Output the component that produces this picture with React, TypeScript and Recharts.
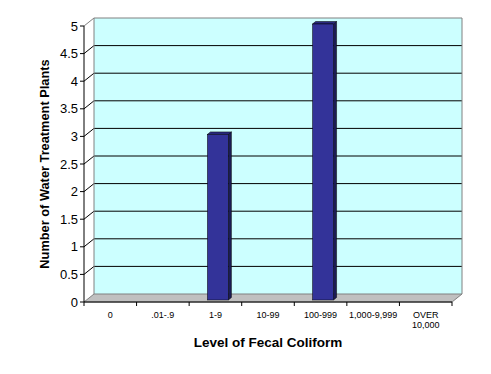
import { BarChart, Bar, XAxis, YAxis, CartesianGrid, Label } from "recharts";

const categories = ["0", ".01-.9", "1-9", "10-99", "100-999", "1,000-9,999", "OVER\n10,000"];
const plantCounts = [0, 0, 3, 0, 5, 0, 0];
const yTicks = [0, 0.5, 1, 1.5, 2, 2.5, 3, 3.5, 4, 4.5, 5];

const data = categories.map((level, i) => ({ level, plants: plantCounts[i] }));

const W = 491;
const H = 374;
const margin = { top: 26, right: 39, bottom: 32, left: 24 };
const Y_AXIS_W = 60;
const X_AXIS_H = 40;
const plotLeft = margin.left + Y_AXIS_W;
const plotRight = W - margin.right;
const plotTop = margin.top;
const plotBottom = H - margin.bottom - X_AXIS_H;
// depth of the "3d" walls
const DX = 10;
const DY = 8;
const band = (plotRight - plotLeft) / categories.length;
const FONT = '"Liberation Sans", Arial, sans-serif';

// grid line on the back wall + the diagonal on the side wall; the 0 line becomes the floor
function WallLine(props: any) {
  const { x1, x2, y1 } = props;
  const fx = x1 - DX;
  const by = y1 - DY;
  if (Math.abs(y1 - plotBottom) < 0.5) {
    return (
      <polygon
        points={`${fx},${y1} ${x2 - DX},${y1} ${x2},${by} ${x1},${by}`}
        fill="#c0c0c0"
        stroke="#808080"
        strokeWidth={1}
      />
    );
  }
  const isTop = Math.abs(y1 - plotTop) < 0.5;
  return (
    <g>
      {isTop && (
        <g stroke="#808080" strokeWidth={1}>
          <line x1={x1} y1={by} x2={x1} y2={plotBottom - DY} />
          <line x1={x2} y1={by} x2={x2} y2={plotBottom - DY} />
        </g>
      )}
      <line x1={fx} y1={y1} x2={x1} y2={by} stroke={isTop ? "#808080" : "#000"} strokeWidth={1} />
      <line x1={x1} y1={by} x2={x2} y2={by} stroke={isTop ? "#808080" : "#000"} strokeWidth={1} />
    </g>
  );
}

function Bar3D(props: any) {
  const { x, y, width, height } = props;
  if (!height || height <= 0) return null;
  const fx = x + 2.5;
  const fy = y - 2;
  const dx = 3;
  const dy = 2.5;
  return (
    <g>
      <polygon
        points={`${fx + width},${fy} ${fx + width + dx},${fy - dy} ${fx + width + dx},${fy + height - dy} ${fx + width},${fy + height}`}
        fill="#1c1c55"
        stroke="#000"
        strokeWidth={0.5}
      />
      <polygon
        points={`${fx},${fy} ${fx + dx},${fy - dy} ${fx + width + dx},${fy - dy} ${fx + width},${fy}`}
        fill="#2a2a80"
        stroke="#000"
        strokeWidth={0.5}
      />
      <rect x={fx} y={fy} width={width} height={height} fill="#333399" stroke="#000" strokeWidth={0.5} />
    </g>
  );
}

function LevelTick(props: any) {
  const { x, y, payload, index } = props;
  const axisY = y - 4;
  const lines = String(payload.value).split("\n");
  return (
    <g>
      <line x1={x - band / 2} y1={axisY} x2={x - band / 2} y2={axisY + 4} stroke="#000" />
      {index === categories.length - 1 && (
        <line x1={x + band / 2} y1={axisY} x2={x + band / 2} y2={axisY + 4} stroke="#000" />
      )}
      <text x={x} y={y + 12} textAnchor="middle" fontSize={9} fontFamily={FONT} fill="#000">
        {lines.map((l, i) => (
          <tspan key={i} x={x} dy={i === 0 ? 0 : 10}>
            {l}
          </tspan>
        ))}
      </text>
    </g>
  );
}

export default function App() {
  return (
    <div style={{ position: "absolute", left: 0, top: 0, width: W, height: H, background: "#fff" }}>
      <BarChart width={W} height={H} data={data} margin={margin} barCategoryGap="30%">
        <CartesianGrid
          x={plotLeft + DX}
          y={plotTop - DY}
          width={plotRight - plotLeft}
          height={plotBottom - plotTop}
          fill="#ccffff"
          vertical={false}
          horizontal={WallLine}
        />
        <XAxis
          dataKey="level"
          height={X_AXIS_H}
          interval={0}
          tickSize={4}
          tickMargin={0}
          tickLine={false}
          axisLine={{ stroke: "#000" }}
          tick={LevelTick}
        >
          <Label
            content={(p: any) => (
              <text
                x={p.viewBox.x + p.viewBox.width / 2}
                y={p.viewBox.y + 45}
                textAnchor="middle"
                fontSize={13.5}
                fontWeight="bold"
                fontFamily={FONT}
                fill="#000"
              >
                Level of Fecal Coliform
              </text>
            )}
          />
        </XAxis>
        <YAxis
          width={Y_AXIS_W}
          domain={[0, 5]}
          ticks={yTicks}
          interval={0}
          tickSize={4}
          tickMargin={2}
          axisLine={{ stroke: "#000" }}
          tickLine={{ stroke: "#000" }}
          tick={{ fill: "#000", fontSize: 13, fontFamily: FONT }}
        >
          <Label
            content={(p: any) => {
              const cx = p.viewBox.x + 20;
              const cy = p.viewBox.y + p.viewBox.height / 2;
              return (
                <text
                  x={cx}
                  y={cy}
                  transform={`rotate(-90 ${cx} ${cy})`}
                  textAnchor="middle"
                  dominantBaseline="central"
                  fontSize={12.8}
                  fontWeight="bold"
                  fontFamily={FONT}
                  fill="#000"
                >
                  Number of Water Treatment Plants
                </text>
              );
            }}
          />
        </YAxis>
        <Bar dataKey="plants" shape={Bar3D} isAnimationActive={false} />
      </BarChart>
    </div>
  );
}
